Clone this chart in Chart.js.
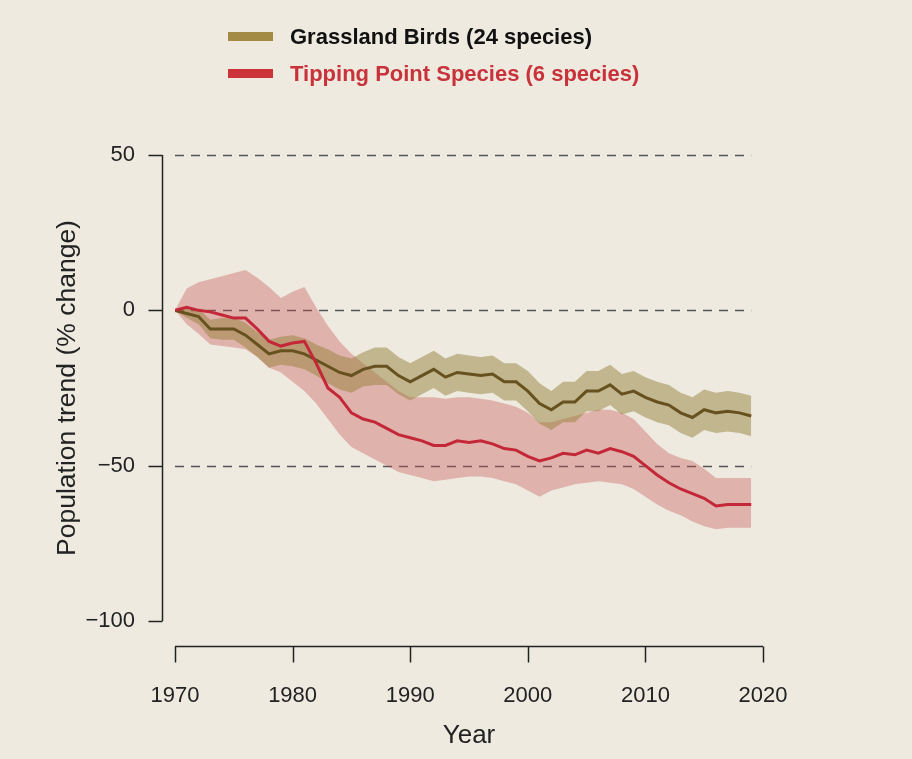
<!DOCTYPE html>
<html><head><meta charset="utf-8">
<script src="https://cdn.jsdelivr.net/npm/chart.js@4"></script>
<style>
html,body{margin:0;padding:0;background:#EEEAE0;}
#wrap{position:relative;width:912px;height:759px;overflow:hidden;}
canvas{position:absolute;left:0;top:0;}
.leg{position:absolute;left:228px;font:bold 22px "Liberation Sans",Arial,Helvetica,sans-serif;display:flex;align-items:center;line-height:25px;white-space:nowrap;}
.sw{display:inline-block;width:45px;height:9px;margin-right:17px;}
</style></head>
<body>
<div id="wrap">
<canvas id="c" width="912" height="759"></canvas>
<div class="leg" style="top:24px;color:#111"><span class="sw" style="background:#A38B45"></span>Grassland Birds (24 species)</div>
<div class="leg" style="top:61px;color:#C8323A"><span class="sw" style="background:#CC3339"></span>Tipping Point Species (6 species)</div>
</div>
<script>
const years = [1970,1971,1972,1973,1974,1975,1976,1977,1978,1979,1980,1981,1982,1983,1984,1985,1986,1987,1988,1989,1990,1991,1992,1993,1994,1995,1996,1997,1998,1999,2000,2001,2002,2003,2004,2005,2006,2007,2008,2009,2010,2011,2012,2013,2014,2015,2016,2017,2018,2019];

const grassland = [0,-1,-2,-6,-6,-6,-8,-11,-14,-13,-13,-14,-16,-18,-20,-21,-19,-18,-18,-21,-23,-21,-19,-21.5,-20,-20.5,-21,-20.5,-23,-23,-26,-30,-32,-29.5,-29.5,-26,-26,-24,-27,-26,-28,-29.5,-30.5,-33,-34.5,-32,-33,-32.5,-33,-34];
const grasslandUpper = [0,0.5,0.5,-3,-2.5,-2.5,-4,-7,-9.5,-8.5,-8,-9,-11,-12.5,-14.5,-15.5,-13.5,-12,-12,-15,-17,-15,-13,-15.5,-14,-14.5,-15,-14.5,-17,-17,-19.5,-23.5,-26,-23,-23,-19.5,-19.5,-17.5,-20.5,-19.5,-21.5,-23,-24,-26.5,-28,-25.5,-26.5,-26,-26.5,-27.5];
const grasslandLower = [0,-2.5,-4.5,-9,-9.5,-9.5,-12,-15,-18.5,-17.5,-18,-19,-21,-23.5,-25.5,-26.5,-24.5,-24,-24,-27,-29,-27,-25,-27.5,-26,-26.5,-27,-26.5,-29,-29,-32.5,-36.5,-38.5,-36,-36,-32.5,-32.5,-30.5,-33.5,-32.5,-34.5,-36,-37,-39.5,-41,-38.5,-39.5,-39,-39.5,-40.5];

const tipping = [0,1,0,-0.5,-1.5,-2.5,-2.5,-6,-10,-11.5,-10.5,-10,-17,-25,-28,-33,-35,-36,-38,-40,-41,-42,-43.5,-43.5,-42,-42.5,-42,-43,-44.5,-45,-47,-48.5,-47.5,-46,-46.5,-45,-46,-44.5,-45.5,-47,-50,-53,-55.5,-57.5,-59,-60.5,-63,-62.5,-62.5,-62.5];
const tippingUpper = [0,7,9,10,11,12,13,10.5,7.5,4,6,7.5,1,-5,-10,-14,-17,-20,-23,-26,-28,-28,-28,-28.5,-28,-28,-28.5,-29,-30,-31,-33,-36,-36,-35,-34,-33,-32,-32,-33,-35,-39,-43,-46,-47.5,-48.5,-51,-54,-54,-54,-54];
const tippingLower = [0,-4.5,-7.5,-11,-11.5,-12,-12.5,-15,-18.5,-20,-23,-26,-30,-35,-40,-44,-46,-48,-50,-52,-53,-54,-55,-54.5,-54,-53.5,-53.5,-54,-55,-56,-58,-60,-58,-57,-56,-55.5,-55,-55.5,-56,-57.5,-60,-62.5,-64.5,-66,-68,-69.5,-70.5,-70,-70,-70];

const xTickValues = [1970,1980,1990,2000,2010,2020];
const yTickValues = [50,0,-50,-100];
const refLineValues = [50,0,-50];

const FONT = '"Liberation Sans", Arial, Helvetica, sans-serif';
const pts = arr => years.map((yr,i)=>({x:yr,y:arr[i]}));

const rAxes = {
  id:'rAxes',
  beforeDatasetsDraw(chart){
    const {ctx, scales:{x,y}} = chart;
    ctx.save();
    ctx.strokeStyle = '#555';
    ctx.lineWidth = 1.3;
    ctx.setLineDash([9,7]);
    refLineValues.forEach(v=>{
      const py = Math.round(y.getPixelForValue(v))+0.5;
      ctx.beginPath();
      ctx.moveTo(x.getPixelForValue(years[0]), py);
      ctx.lineTo(x.getPixelForValue(years[years.length-1]), py);
      ctx.stroke();
    });
    ctx.restore();
  },
  afterDraw(chart){
    const {ctx, chartArea, scales:{x,y}} = chart;
    ctx.save();
    ctx.strokeStyle = '#222';
    ctx.lineWidth = 1.5;
    ctx.setLineDash([]);
    const ax = Math.round(chartArea.left - 13) + 0.5;
    ctx.beginPath();
    ctx.moveTo(ax, y.getPixelForValue(yTickValues[0]));
    ctx.lineTo(ax, y.getPixelForValue(yTickValues[yTickValues.length-1]));
    ctx.stroke();
    yTickValues.forEach(v=>{
      const py = Math.round(y.getPixelForValue(v))+0.5;
      ctx.beginPath(); ctx.moveTo(ax, py); ctx.lineTo(ax-14, py); ctx.stroke();
    });
    const ay = Math.round(chartArea.bottom + 25) + 0.5;
    ctx.beginPath();
    ctx.moveTo(x.getPixelForValue(xTickValues[0]), ay);
    ctx.lineTo(x.getPixelForValue(xTickValues[xTickValues.length-1]), ay);
    ctx.stroke();
    xTickValues.forEach(v=>{
      const px = Math.round(x.getPixelForValue(v))+0.5;
      ctx.beginPath(); ctx.moveTo(px, ay); ctx.lineTo(px, ay+16); ctx.stroke();
    });
    ctx.restore();
  }
};

new Chart(document.getElementById('c'), {
  type:'line',
  data:{
    datasets:[
      {label:'Tipping Point Species (6 species)', data:pts(tipping), borderColor:'#C42838', borderWidth:3, pointRadius:0, fill:false, order:0, tension:0},
      {label:'Grassland Birds (24 species)', data:pts(grassland), borderColor:'#66511F', borderWidth:3, pointRadius:0, fill:false, order:1, tension:0},
      {label:'grass upper', data:pts(grasslandUpper), borderWidth:0, borderColor:'rgba(0,0,0,0)', backgroundColor:'rgba(150,130,60,0.5)', pointRadius:0, fill:'+1', order:2},
      {label:'grass lower', data:pts(grasslandLower), borderWidth:0, borderColor:'rgba(0,0,0,0)', pointRadius:0, fill:false, order:3},
      {label:'tip upper', data:pts(tippingUpper), borderWidth:0, borderColor:'rgba(0,0,0,0)', backgroundColor:'rgba(200,80,80,0.36)', pointRadius:0, fill:'+1', order:4},
      {label:'tip lower', data:pts(tippingLower), borderWidth:0, borderColor:'rgba(0,0,0,0)', pointRadius:0, fill:false, order:5}
    ]
  },
  options:{
    responsive:false,
    devicePixelRatio:1,
    animation:false,
    layout:{padding:{top:155,right:149,bottom:0,left:0}},
    plugins:{legend:{display:false}, tooltip:{enabled:false}},
    scales:{
      x:{
        type:'linear', min:1970, max:2020,
        afterBuildTicks:s=>{s.ticks = xTickValues.map(v=>({value:v}));},
        afterFit:s=>{s.height = 138;},
        ticks:{callback:v=>String(v), font:{family:FONT,size:22}, color:'#222', padding:62, maxRotation:0, autoSkip:false},
        grid:{display:false, drawTicks:false},
        border:{display:false},
        title:{display:true, text:'Year', font:{family:FONT,size:26}, color:'#222', padding:{top:0,bottom:8}}
      },
      y:{
        type:'linear', min:-100, max:50,
        afterBuildTicks:s=>{s.ticks = yTickValues.map(v=>({value:v}));},
        afterFit:s=>{s.width = 175;},
        ticks:{callback:v=>String(v).replace('-','\u2212'), font:{family:FONT,size:22}, color:'#222', padding:40},
        grid:{display:false, drawTicks:false},
        border:{display:false},
        title:{display:true, text:'Population trend (% change)', font:{family:FONT,size:26.5}, color:'#222', padding:{top:52,bottom:0}}
      }
    }
  },
  plugins:[rAxes]
});
</script>
</body></html>
